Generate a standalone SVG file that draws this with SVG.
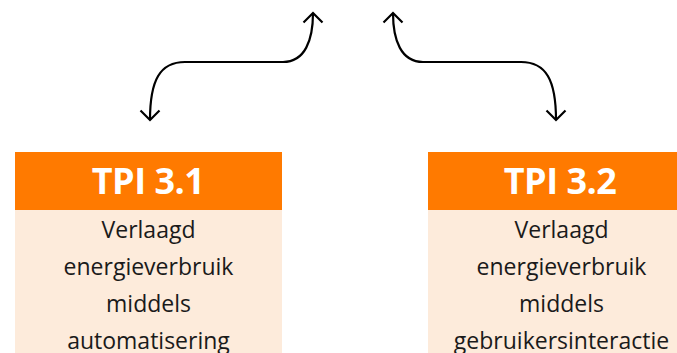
<svg xmlns="http://www.w3.org/2000/svg" width="677" height="353" viewBox="0 0 677 353">
  <style>
    .head { fill: #FF7A00; }
    .body { fill: #FDEBDB; }
    .title { font-family: "Open Sans", "Noto Sans", sans-serif; font-weight: 700; font-size: 36px; fill: #FFFFFF; text-anchor: middle; letter-spacing: -0.5px; }
    .txt { font-family: "Open Sans", "Noto Sans", sans-serif; font-size: 23px; fill: #1A1A1A; text-anchor: middle; }
    .conn { fill: none; stroke: #000000; stroke-width: 2.2; marker-start: url(#chev); marker-end: url(#chev); }
  </style>
  <defs>
    <marker id="chev" markerUnits="userSpaceOnUse" viewBox="-12 -12 24 24" markerWidth="24" markerHeight="24" refX="0" refY="0" orient="auto-start-reverse" overflow="visible">
      <path d="M-9.5,-9.5 L0,0 L-9.5,9.5" fill="none" stroke="#000000" stroke-width="2.2" stroke-linejoin="miter"/>
    </marker>
  </defs>
  <rect width="677" height="353" fill="#FFFFFF"/>
  <g id="connectors">
    <path class="conn" d="M150,120 C150,80 160,62 185,62 L283,62 C305,62 313,40 313,13"/>
    <path class="conn" d="M393,13 C393,40 401,62 423,62 L521,62 C546,62 556,80 556,120"/>
  </g>
  <g id="tpi31">
    <rect class="head" x="15" y="152" width="267" height="58"/>
    <rect class="body" x="15" y="210" width="267" height="150"/>
    <text class="title" x="148" y="193.5">TPI 3.1</text>
    <text class="txt" x="148.5" y="237.5">Verlaagd</text>
    <text class="txt" x="148.5" y="274.5">energieverbruik</text>
    <text class="txt" x="148.5" y="311.5">middels</text>
    <text class="txt" x="148.5" y="348.5">automatisering</text>
  </g>
  <g id="tpi32">
    <rect class="head" x="428" y="152" width="267" height="58"/>
    <rect class="body" x="428" y="210" width="267" height="150"/>
    <text class="title" x="560" y="193.5">TPI 3.2</text>
    <text class="txt" x="561.5" y="237.5">Verlaagd</text>
    <text class="txt" x="561.5" y="274.5">energieverbruik</text>
    <text class="txt" x="561.5" y="311.5">middels</text>
    <text class="txt" x="561.5" y="348.5">gebruikersinteractie</text>
  </g>
</svg>
